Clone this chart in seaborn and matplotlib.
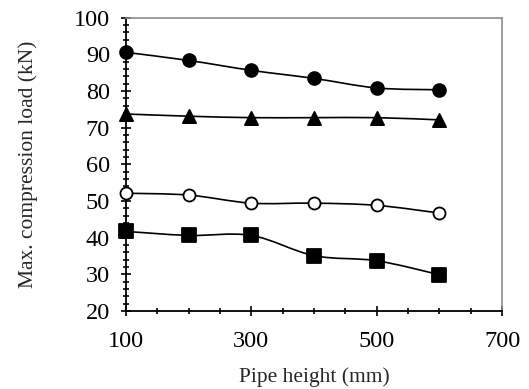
import numpy as np
import matplotlib
matplotlib.use("Agg")
import matplotlib.pyplot as plt
from matplotlib.path import Path
from matplotlib.patches import PathPatch
from matplotlib.ticker import MultipleLocator, FixedLocator
import seaborn as sns

heights = [100, 200, 300, 400, 500, 600]
series_circle_filled = [90.5, 88.3, 85.6, 83.4, 80.8, 80.3]
series_triangle = [73.7, 73.1, 72.7, 72.7, 72.7, 72.1]
series_circle_open = [52.1, 51.6, 49.4, 49.4, 48.8, 46.7]
series_square = [41.7, 40.6, 40.6, 35.1, 33.7, 29.9]
x_tick_labels = ["100", "300", "500", "700"]

sns.set_style("ticks")
plt.rcParams["font.family"] = ["Liberation Serif", "DejaVu Serif"]

fig = plt.figure(figsize=(5.29, 3.89), dpi=100)
ax = fig.add_axes([0.238, 0.2005, 0.711, 0.7545])


def smooth_path(xs, ys):
    pts = np.column_stack([xs, ys]).astype(float)
    n = len(pts)
    verts = [pts[0]]
    codes = [Path.MOVETO]
    for i in range(n - 1):
        p_prev = pts[i - 1] if i > 0 else pts[i]
        p0 = pts[i]
        p1 = pts[i + 1]
        p_next = pts[i + 2] if i + 2 < n else pts[i + 1]
        c1 = p0 + (p1 - p_prev) / 6.0
        c2 = p1 - (p_next - p0) / 6.0
        verts += [c1, c2, p1]
        codes += [Path.CURVE4] * 3
    return Path(verts, codes)


specs = [
    (series_circle_filled, "o", "black", "black", 85),
    (series_triangle, "^", "black", "black", 90),
    (series_circle_open, "o", "white", "black", 75),
    (series_square, "s", "black", "black", 90),
]

for ys, mk, fc, ec, s in specs:
    patch = PathPatch(smooth_path(heights, ys), facecolor="none",
                      edgecolor="black", lw=1.2, transform=ax.transData,
                      zorder=2, clip_on=False)
    ax.add_patch(patch)
    sns.scatterplot(x=heights, y=ys, marker=mk, s=s, color=fc,
                    edgecolor=ec, linewidth=1.3, ax=ax, zorder=3,
                    clip_on=False)

ax.set_xlim(100, 700)
ax.set_ylim(20, 100)
ax.xaxis.set_major_locator(FixedLocator([100, 300, 500, 700]))
ax.set_xticklabels(x_tick_labels)
ax.xaxis.set_minor_locator(MultipleLocator(50))
ax.yaxis.set_major_locator(MultipleLocator(10))
ax.yaxis.set_minor_locator(MultipleLocator(2))

ax.tick_params(axis="both", which="major", direction="inout", length=7,
               width=1.2, color="black", labelsize=17.5, labelcolor="black")
ax.tick_params(axis="both", which="minor", direction="inout", length=5,
               width=1.2, color="black")
ax.tick_params(axis="x", which="major", pad=11)
ax.tick_params(axis="y", which="major", pad=8)

for side in ["left", "bottom"]:
    ax.spines[side].set_color("black")
    ax.spines[side].set_linewidth(1.3)
for side in ["top", "right"]:
    ax.spines[side].set_visible(True)
    ax.spines[side].set_color("#8c8c8c")
    ax.spines[side].set_linewidth(1.2)

ax.set_xlabel("Pipe height (mm)", fontsize=15.5, labelpad=11)
ax.set_ylabel("Max. compression load (kN)", fontsize=15.5, labelpad=26)
ax.grid(False)

fig.savefig("out.png", dpi=100)
